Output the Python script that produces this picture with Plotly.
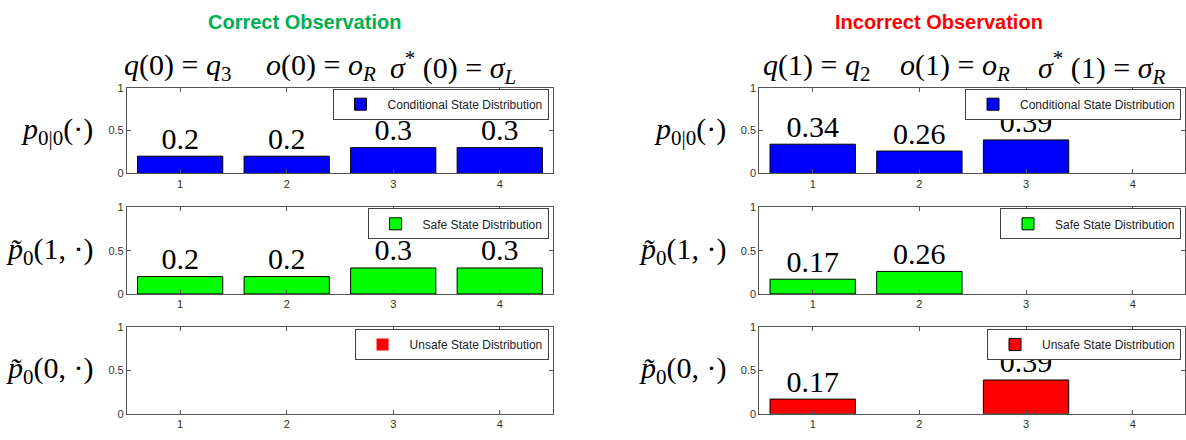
import plotly.graph_objects as go

# ---------------- data ----------------
categories = [1, 2, 3, 4]

correct_conditional = [0.2, 0.2, 0.3, 0.3]
correct_safe = [0.2, 0.2, 0.3, 0.3]
correct_unsafe = [0, 0, 0, 0]

incorrect_conditional = [0.34, 0.26, 0.39, 0]
incorrect_safe = [0.17, 0.26, 0, 0]
incorrect_unsafe = [0.17, 0, 0.39, 0]

series_names = ["Conditional State Distribution", "Safe State Distribution", "Unsafe State Distribution"]
series_colors = ["#0000FF", "#00FF00", "#FF0000"]

panel_titles = ["Correct Observation", "Incorrect Observation"]
panel_title_colors = ["#00B050", "#FF0000"]

header_left = ["<i>q</i>(0) = <i>q</i><sub>3</sub>",
               "<i>o</i>(0) = <i>o<sub>R</sub></i>",
               "<i>σ</i><sup>*</sup> (0) = <i>σ<sub>L</sub></i>"]
header_right = ["<i>q</i>(1) = <i>q</i><sub>2</sub>",
                "<i>o</i>(1) = <i>o<sub>R</sub></i>",
                "<i>σ</i><sup>*</sup> (1) = <i>σ<sub>R</sub></i>"]

row_labels = ["<i>p</i><sub>0|0</sub>(·)",
              "<i>p̃</i><sub>0</sub>(1, ·)",
              "<i>p̃</i><sub>0</sub>(0, ·)"]

y_ticks = [0, 0.5, 1]
y_ticktext = ["0", "0.5", "1"]

data = [
    [correct_conditional, incorrect_conditional],
    [correct_safe, incorrect_safe],
    [correct_unsafe, incorrect_unsafe],
]

# ---------------- layout geometry ----------------
W, H = 1186, 440
x_domains = [[127 / W, 553.5 / W], [760 / W, 1.0]]
x_ranges = [[0.5, 4.5], [0.5, 4.49]]
y_domains = [[1 - 172 / H, 1 - 84 / H], [1 - 296 / H, 1 - 207 / H], [1 - 419.3 / H, 1 - 330 / H]]
legend_x = [549 / W, 1182 / W]
legend_top = [85, 208, 332]

serif = "Liberation Serif, Times New Roman, serif"
sans = "Liberation Sans, Arial, sans-serif"

fig = go.Figure()
layout_updates = {}
annotations = []

for r in range(3):
    for c in range(2):
        idx = r * 2 + c + 1
        xa = "x" if idx == 1 else f"x{idx}"
        ya = "y" if idx == 1 else f"y{idx}"
        leg = "legend" if idx == 1 else f"legend{idx}"
        vals = data[r][c]
        fig.add_trace(go.Bar(
            x=categories, y=vals, width=0.8,
            name=series_names[r],
            marker=dict(color=series_colors[r],
                        line=dict(color="#000000", width=[1 if v > 0 else 0 for v in vals])),
            hoverinfo="skip",
            xaxis=xa, yaxis=ya, legend=leg, showlegend=True,
        ))
        # value labels above the bars
        fig.add_trace(go.Scatter(
            x=categories, y=vals, mode="text",
            text=[("%g" % v) if v > 0 else "" for v in vals],
            textposition="top center",
            textfont=dict(family=serif, size=30, color="#000000"),
            cliponaxis=False, hoverinfo="skip",
            xaxis=xa, yaxis=ya, showlegend=False,
        ))
        axis_common = dict(showline=True, linecolor="#555555", linewidth=1, mirror="ticks",
                           ticks="inside", ticklen=4, tickcolor="#555555",
                           showgrid=False, zeroline=False,
                           tickfont=dict(family=sans, size=11, color="#333333"))
        layout_updates["xaxis" if idx == 1 else f"xaxis{idx}"] = dict(
            domain=x_domains[c], range=x_ranges[c], anchor=ya,
            tickmode="array", tickvals=categories, ticktext=[str(k) for k in categories],
            **axis_common)
        layout_updates["yaxis" if idx == 1 else f"yaxis{idx}"] = dict(
            domain=y_domains[r], range=[0, 1], anchor=xa,
            tickmode="array", tickvals=y_ticks, ticktext=y_ticktext,
            **axis_common)
        layout_updates[leg] = dict(
            x=legend_x[c], xanchor="right", xref="paper",
            y=1 - legend_top[r] / H, yanchor="top", yref="paper",
            bgcolor="#FFFFFF", bordercolor="#444444", borderwidth=1,
            font=dict(family=sans, size=12, color="#222222"),
            itemwidth=44, tracegroupgap=0,
        )
        annotations.append(dict(
            text=row_labels[r], xref="paper", x=(95 if c == 0 else 729) / W, xanchor="right",
            yref=f"{ya} domain", y=0.5, yanchor="middle", showarrow=False,
            font=dict(family=serif, size=30, color="#000000")))

# panel titles and headers
title_cx = [305, 940]
header_x = [[122, 264, 388], [762, 899, 1037]]
headers = [header_left, header_right]
for c in range(2):
    annotations.append(dict(
        text="<b>" + panel_titles[c] + "</b>", xref="paper", yref="paper",
        x=title_cx[c] / W, y=1 - 16 / H, xanchor="center", yanchor="middle", showarrow=False,
        font=dict(family=sans, size=20, color=panel_title_colors[c])))
    for k in range(3):
        annotations.append(dict(
            text=headers[c][k], xref="paper", yref="paper",
            x=header_x[c][k] / W, y=1 - 63 / H, xanchor="left", yanchor="middle", showarrow=False,
            font=dict(family=serif, size=30, color="#000000")))

fig.update_layout(
    width=W, height=H, margin=dict(l=0, r=0, t=0, b=0),
    paper_bgcolor="#FFFFFF", plot_bgcolor="#FFFFFF",
    showlegend=True, bargap=0.2, hovermode=False,
    annotations=annotations,
    **layout_updates,
)

fig.write_html("out.html", config={"displayModeBar": False},
               post_script="document.body.style.margin='0px';")
